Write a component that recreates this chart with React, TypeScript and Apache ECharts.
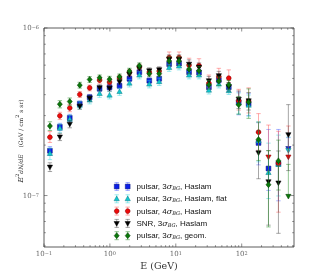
import React, { useEffect, useRef } from "react";
import * as echarts from "echarts";

const UNIT = 1e-7;
const XMIN = 0.1;
const XMAX = 622;
const YMIN = 4.93e-8;
const YMAX = 1e-6;

// bin energies (GeV)
const energies = [0.123, 0.174, 0.246, 0.349, 0.493, 0.698, 0.988, 1.4, 1.98, 2.8, 3.96, 5.6, 7.93, 11.2, 15.9, 22.5, 31.8, 45.0, 63.7, 90.1, 127.5, 180, 255, 361, 511];

// E^2 dN/dE values in units of 1e-7 GeV cm^-2 s^-1 sr^-1
const blueVals = [1.85, 2.57, 2.91, 3.53, 3.86, 4.34, 4.43, 4.52, 4.98, 5.45, 4.85, 4.98, 6.09, 6.13, 5.45, 5.42, 4.43, 4.89, 4.43, 3.61, 3.53, 2.06, 1.45, 1.55, 1.91];
const cyanVals = [1.78, 2.52, 2.85, 3.46, 3.71, 4.06, 3.97, 4.17, 4.68, 5.23, 4.62, 4.78, 5.8, 5.92, 5.23, 5.23, 4.25, 4.62, 4.22, 3.56, 3.46, 2.12, 1.37, 1.53, 1.86];
const redVals = [2.23, 2.99, 3.33, 4.01, 4.39, 4.88, 4.75, 5.02, 5.42, 5.84, 5.45, 5.53, 6.66, 6.66, 6.0, 5.96, 4.68, 5.13, 5.02, 3.68, 3.66, 2.39, 1.7, 1.56, 1.7];
const blackVals = [1.48, 2.24, 2.67, 3.41, 3.81, 4.41, 4.37, 4.78, 5.3, 5.76, 5.56, 5.64, 6.52, 6.52, 6.09, 5.84, 4.85, 5.2, 4.46, 3.76, 3.68, 1.8, 1.21, 1.19, 2.31];
const greenVals = [2.6, 3.51, 3.64, 4.56, 4.93, 5.04, 4.95, 5.11, 5.53, 5.95, 5.34, 5.34, 6.35, 6.35, 5.68, 5.56, 4.59, 4.82, 4.59, 3.48, 3.61, 2.16, 1.16, 1.61, 0.99];

// relative errors (upper / lower)
const blueUp = [0.06, 0.05, 0.05, 0.04, 0.04, 0.04, 0.04, 0.04, 0.04, 0.04, 0.04, 0.04, 0.05, 0.05, 0.05, 0.05, 0.05, 0.05, 0.05, 0.15, 0.15, 0.32, 0.71, 0.6, 0.16];
const blueDn = [0.06, 0.05, 0.05, 0.04, 0.04, 0.04, 0.04, 0.04, 0.04, 0.04, 0.04, 0.04, 0.05, 0.05, 0.05, 0.05, 0.05, 0.05, 0.05, 0.16, 0.15, 0.26, 0.26, 0.4, 0];
const cyanUp = [0.08, 0.06, 0.06, 0.05, 0.05, 0.05, 0.05, 0.05, 0.05, 0.05, 0.05, 0.05, 0.05, 0.05, 0.05, 0.05, 0.05, 0.05, 0.05, 0.15, 0.15, 0.3, 0.5, 0.5, 0.2];
const cyanDn = [0.08, 0.06, 0.06, 0.05, 0.05, 0.05, 0.05, 0.05, 0.05, 0.05, 0.05, 0.05, 0.05, 0.05, 0.05, 0.05, 0.05, 0.05, 0.05, 0.14, 0.14, 0.25, 0.3, 0.35, 0];
const redUp = [0.08, 0.05, 0.05, 0.04, 0.04, 0.04, 0.04, 0.04, 0.04, 0.04, 0.04, 0.04, 0.08, 0.08, 0.1, 0.1, 0.12, 0.12, 0.12, 0.17, 0.2, 0.29, 0.55, 0.55, 0.53];
const redDn = [0.07, 0.05, 0.05, 0.04, 0.04, 0.04, 0.04, 0.04, 0.04, 0.04, 0.04, 0.04, 0.05, 0.05, 0.06, 0.06, 0.06, 0.06, 0.06, 0.12, 0.15, 0.22, 0, 0.49, 0];
const blackUp = [0.06, 0.05, 0.05, 0.04, 0.04, 0.04, 0.04, 0.04, 0.04, 0.04, 0.04, 0.04, 0.06, 0.06, 0.06, 0.06, 0.06, 0.06, 0.06, 0.12, 0.12, 0.35, 0.53, 0.55, 0.51];
const blackDn = [0.06, 0.05, 0.05, 0.04, 0.04, 0.04, 0.04, 0.04, 0.04, 0.04, 0.04, 0.04, 0.06, 0.06, 0.06, 0.06, 0.06, 0.06, 0.06, 0.12, 0.12, 0.3, 0.45, 0.5, 0.39];
const greenUp = [0.06, 0.05, 0.05, 0.04, 0.04, 0.04, 0.04, 0.04, 0.04, 0.04, 0.04, 0.04, 0.06, 0.06, 0.06, 0.06, 0.06, 0.06, 0.06, 0.12, 0.2, 0.27, 0.6, 0.33, 0.55];
const greenDn = [0.06, 0.05, 0.05, 0.04, 0.04, 0.04, 0.04, 0.04, 0.04, 0.04, 0.04, 0.04, 0.06, 0.06, 0.06, 0.06, 0.06, 0.06, 0.06, 0.12, 0.2, 0.25, 0.44, 0.33, 0];

// bins shown as upper limits
const blueUL = [24];
const cyanUL = [24];
const redUL = [22, 24];
const blackUL: number[] = [];
const greenUL = [24];

// legend labels: prefix, sigma multiple, suffix
const legendLabels = [
  ["pulsar, ", "3", ", Haslam"],
  ["pulsar, ", "3", ", Haslam, flat"],
  ["pulsar, ", "4", ", Haslam"],
  ["SNR, ", "3", ", Haslam"],
  ["pulsar, ", "3", ", geom."],
];

const xMajor = [0.1, 1, 10, 100];
const yMajor = [1e-7, 1e-6];
const mantissas = [2, 3, 4, 5, 6, 7, 8, 9];

type Def = { vals: number[]; up: number[]; dn: number[]; ul: number[]; shape: string; fill: string; stroke: string; err: string };

const defs: Def[] = [
  { vals: blueVals, up: blueUp, dn: blueDn, ul: blueUL, shape: "square", fill: "#0a1eea", stroke: "#06106e", err: "rgba(70,90,255,0.45)" },
  { vals: cyanVals, up: cyanUp, dn: cyanDn, ul: cyanUL, shape: "triup", fill: "#10c8d0", stroke: "#0a7a80", err: "rgba(40,210,220,0.45)" },
  { vals: redVals, up: redUp, dn: redDn, ul: redUL, shape: "circle", fill: "#ee0a0a", stroke: "#800000", err: "rgba(255,70,70,0.45)" },
  { vals: blackVals, up: blackUp, dn: blackDn, ul: blackUL, shape: "tridown", fill: "#000000", stroke: "#000000", err: "rgba(60,60,60,0.45)" },
  { vals: greenVals, up: greenUp, dn: greenDn, ul: greenUL, shape: "diamond", fill: "#0a780a", stroke: "#033a03", err: "rgba(40,140,40,0.5)" },
];

const MS = 4.8;

function marker(shape: string, cx: number, cy: number, s: number, fill: string, stroke: string): any {
  const h = s / 2;
  const style = { fill, stroke, lineWidth: 0.5 };
  switch (shape) {
    case "square":
      return { type: "rect", shape: { x: cx - h, y: cy - h, width: s, height: s }, style };
    case "circle":
      return { type: "circle", shape: { cx, cy, r: h }, style };
    case "triup":
      return { type: "polygon", shape: { points: [[cx, cy - h * 1.15], [cx + h * 1.1, cy + h * 0.8], [cx - h * 1.1, cy + h * 0.8]] }, style };
    case "tridown":
      return { type: "polygon", shape: { points: [[cx - h * 1.1, cy - h * 0.8], [cx + h * 1.1, cy - h * 0.8], [cx, cy + h * 1.15]] }, style };
    default:
      return { type: "polygon", shape: { points: [[cx, cy - h * 1.25], [cx + h * 1.05, cy], [cx, cy + h * 1.25], [cx - h * 1.05, cy]] }, style };
  }
}

function powLabel(v: number): string {
  const e = Math.log10(v);
  const r = Math.round(e);
  if (Math.abs(e - r) > 1e-6) return "";
  return "{b|10}{s|" + (r < 0 ? "\u2212" + Math.abs(r) : String(r)) + "}";
}

const labelRich = {
  b: { fontFamily: "DejaVu Serif", fontSize: 7, color: "#666" },
  s: { fontFamily: "DejaVu Serif", fontSize: 5, color: "#666", verticalAlign: "top" },
};

export default function App() {
  const ref = useRef<HTMLDivElement>(null);
  useEffect(() => {
    if (!ref.current) return;
    const chart = echarts.init(ref.current, undefined, { renderer: "svg" });

    const tickData: number[][] = [];
    for (const d of xMajor) {
      tickData.push([d, YMIN, 0, 1]);
      for (const m of mantissas) {
        const v = d * m;
        if (v < XMAX) tickData.push([v, YMIN, 0, 0]);
      }
    }
    for (const m of [5, 6, 7, 8, 9]) tickData.push([XMIN, m * 1e-8, 1, 0]);
    for (const d of yMajor) {
      tickData.push([XMIN, d, 1, 1]);
      if (d < YMAX) for (const m of mantissas) tickData.push([XMIN, d * m, 1, 0]);
    }

    const dataSeries = defs.map((def) => ({
      type: "custom",
      coordinateSystem: "cartesian2d",
      encode: { x: 0, y: 1 },
      data: energies.map((e, i) => {
        const v = def.vals[i] * UNIT;
        const isUL = def.ul.includes(i);
        const hi = v * (1 + def.up[i]);
        const lo = isUL ? v : v * (1 - def.dn[i]);
        return [e, v, lo, hi, isUL ? 1 : 0];
      }),
      renderItem: (params: any, api: any) => {
        const x = api.value(0);
        const p = api.coord([x, api.value(1)]);
        const pl = api.coord([x, api.value(2)]);
        const ph = api.coord([x, api.value(3)]);
        const isUL = api.value(4) === 1;
        const cw = 2.2;
        const es = { stroke: def.err, lineWidth: 1 };
        const children: any[] = [
          { type: "line", shape: { x1: p[0], y1: ph[1], x2: p[0], y2: pl[1] }, style: es },
          { type: "line", shape: { x1: p[0] - cw, y1: ph[1], x2: p[0] + cw, y2: ph[1] }, style: es },
        ];
        if (!isUL) children.push({ type: "line", shape: { x1: p[0] - cw, y1: pl[1], x2: p[0] + cw, y2: pl[1] }, style: es });
        children.push(marker(isUL ? "tridown" : def.shape, p[0], p[1], MS, def.fill, def.stroke));
        return { type: "group", children };
      },
    }));

    const tickSeries = {
      type: "custom",
      coordinateSystem: "cartesian2d",
      encode: { x: 0, y: 1 },
      silent: true,
      z: 10,
      data: tickData,
      renderItem: (params: any, api: any) => {
        const kind = api.value(2);
        const len = api.value(3) === 1 ? 3.5 : 1.8;
        const st = { stroke: "#444", lineWidth: 0.6 };
        if (kind === 0) {
          const v = api.value(0);
          const b = api.coord([v, YMIN]);
          const t = api.coord([v, YMAX]);
          return {
            type: "group",
            children: [
              { type: "line", shape: { x1: b[0], y1: b[1], x2: b[0], y2: b[1] - len }, style: st },
              { type: "line", shape: { x1: t[0], y1: t[1], x2: t[0], y2: t[1] + len }, style: st },
            ],
          };
        }
        const v = api.value(1);
        const l = api.coord([XMIN, v]);
        const r = api.coord([XMAX, v]);
        return {
          type: "group",
          children: [
            { type: "line", shape: { x1: l[0], y1: l[1], x2: l[0] + len, y2: l[1] }, style: st },
            { type: "line", shape: { x1: r[0], y1: r[1], x2: r[0] - len, y2: r[1] }, style: st },
          ],
        };
      },
    };

    // legend drawn as graphic (two markers per row, matplotlib style)
    const legendGraphics: any[] = [];
    const rowY0 = 186.5;
    const rowStep = 12.3;
    legendLabels.forEach((lab, i) => {
      const def = defs[i];
      const y = rowY0 + i * rowStep;
      for (const mx of [116.7, 127.7]) {
        const es = { stroke: def.err, lineWidth: 1 };
        legendGraphics.push({ type: "line", shape: { x1: mx, y1: y - 4, x2: mx, y2: y + 4 }, style: es });
        legendGraphics.push({ type: "line", shape: { x1: mx - 2.2, y1: y - 4, x2: mx + 2.2, y2: y - 4 }, style: es });
        legendGraphics.push({ type: "line", shape: { x1: mx - 2.2, y1: y + 4, x2: mx + 2.2, y2: y + 4 }, style: es });
        legendGraphics.push(marker(def.shape, mx, y, MS, def.fill, def.stroke));
      }
      legendGraphics.push({
        type: "text",
        x: 136.5,
        y: y,
        style: {
          text: lab[0] + lab[1] + "{sig|\u03c3}{sub|BG}" + lab[2],
          fill: "#111",
          fontFamily: "Liberation Sans",
          fontSize: 8,
          align: "left",
          textAlign: "left",
          verticalAlign: "middle",
          textVerticalAlign: "middle",
          rich: {
            sig: { fontFamily: "DejaVu Serif", fontStyle: "italic", fontSize: 8, fill: "#111" },
            sub: { fontFamily: "DejaVu Serif", fontStyle: "italic", fontSize: 5, fill: "#111", verticalAlign: "bottom", padding: [3, 0, 0, 0] },
          },
        },
      });
    });

    const option: any = {
      animation: false,
      grid: { left: 44, right: 26, top: 28, bottom: 33, show: true, borderColor: "#333", borderWidth: 0.8, backgroundColor: "transparent" },
      xAxis: {
        type: "log",
        logBase: 10,
        min: XMIN,
        max: XMAX,
        axisLine: { show: false },
        axisTick: { show: false },
        splitLine: { show: false },
        axisLabel: { formatter: powLabel, rich: labelRich, margin: 3 },
      },
      yAxis: {
        type: "log",
        logBase: 10,
        min: YMIN,
        max: YMAX,
        axisLine: { show: false },
        axisTick: { show: false },
        splitLine: { show: false },
        axisLabel: { formatter: powLabel, rich: labelRich, margin: 5 },
      },
      series: [...dataSeries, tickSeries],
      graphic: [
        ...legendGraphics,
        {
          type: "text",
          x: 159,
          y: 265,
          style: {
            text: "E (GeV)",
            fill: "#333",
            fontFamily: "DejaVu Serif",
            fontSize: 9.5,
            align: "center",
            textAlign: "center",
            verticalAlign: "middle",
            textVerticalAlign: "middle",
          },
        },
        {
          type: "text",
          x: 20,
          y: 141,
          rotation: Math.PI / 2,
          style: {
            text: "{i|E}{p|2}{f|dN/dE}  {t|(GeV / cm}{p|2}{t| s sr)}",
            fill: "#333",
            align: "center",
            textAlign: "center",
            verticalAlign: "middle",
            textVerticalAlign: "middle",
            rich: {
              i: { fontFamily: "DejaVu Serif", fontStyle: "italic", fontSize: 8, fill: "#333" },
              p: { fontFamily: "DejaVu Serif", fontSize: 5, fill: "#333", verticalAlign: "top" },
              f: { fontFamily: "DejaVu Serif", fontStyle: "italic", fontSize: 6, fill: "#333" },
              t: { fontFamily: "DejaVu Serif", fontSize: 6, fill: "#333" },
            },
          },
        },
      ],
    };
    chart.setOption(option);
    return () => chart.dispose();
  }, []);
  return <div ref={ref} style={{ position: "fixed", left: 0, top: 0, width: 320, height: 280 }} />;
}
